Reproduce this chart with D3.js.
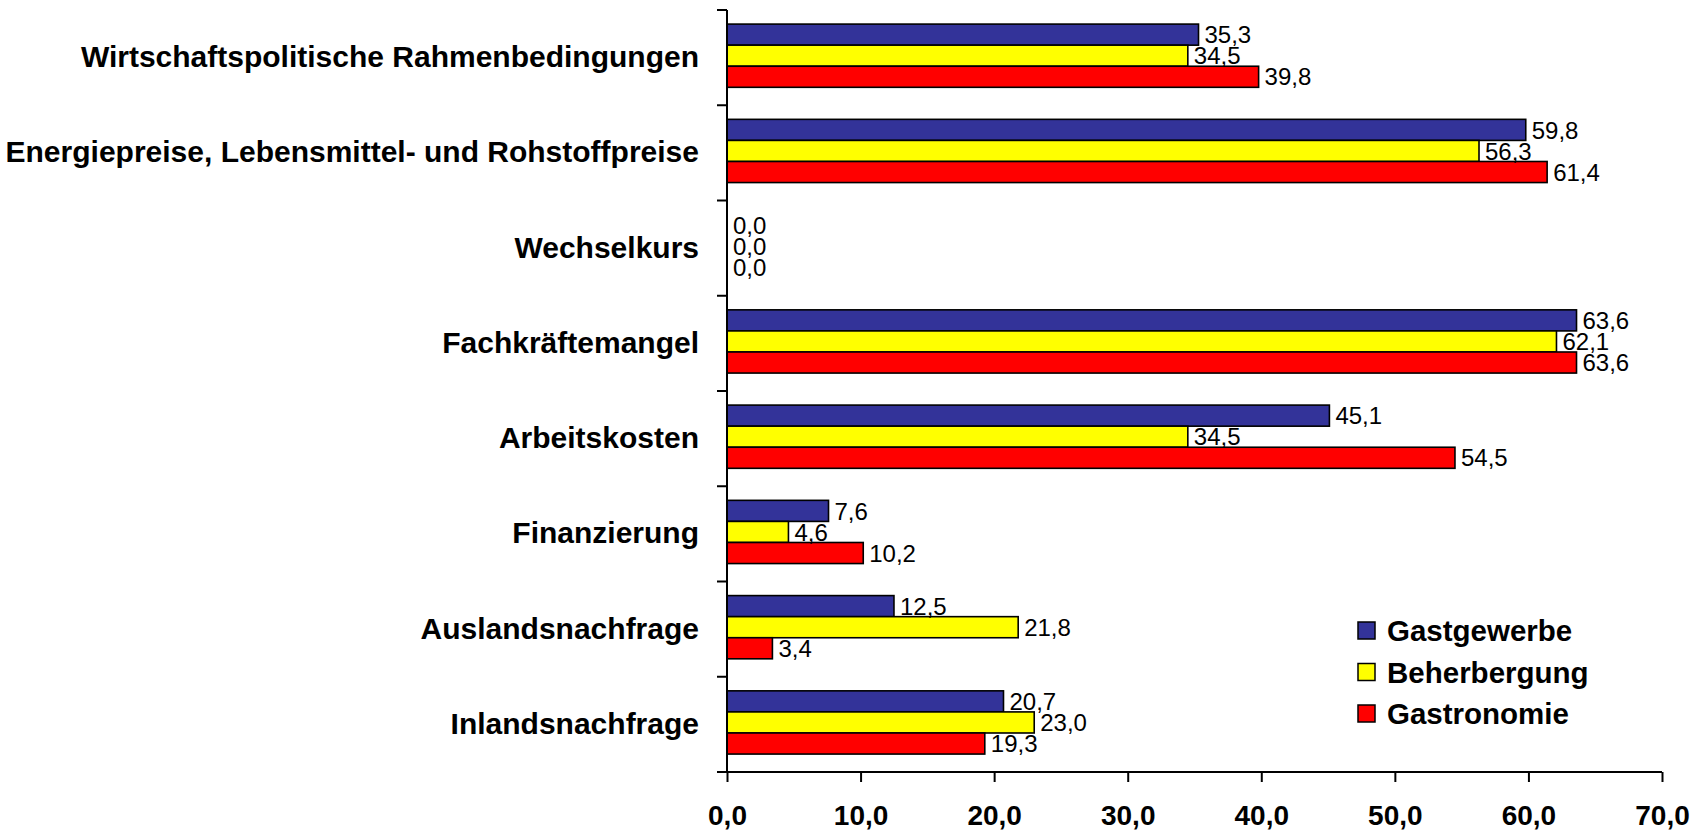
<!DOCTYPE html>
<html>
<head>
<meta charset="utf-8">
<script src="https://cdn.jsdelivr.net/npm/d3@7"></script>
<style>
  body { margin: 0; background: #fff; }
  svg { display: block; font-family: "Liberation Sans", Arial, sans-serif; }
</style>
</head>
<body>
<div id="chart"></div>
<script>
// categories, top to bottom
var categories = [
  "Wirtschaftspolitische Rahmenbedingungen",
  "Energiepreise, Lebensmittel- und Rohstoffpreise",
  "Wechselkurs",
  "Fachkräftemangel",
  "Arbeitskosten",
  "Finanzierung",
  "Auslandsnachfrage",
  "Inlandsnachfrage"
];
var seriesNames = ["Gastgewerbe", "Beherbergung", "Gastronomie"];
var seriesColors = ["#333399", "#ffff00", "#ff0000"];

var gastgewerbe = [35.3, 59.8, 0.0, 63.6, 45.1, 7.6, 12.5, 20.7];
var beherbergung = [34.5, 56.3, 0.0, 62.1, 34.5, 4.6, 21.8, 23.0];
var gastronomie = [39.8, 61.4, 0.0, 63.6, 54.5, 10.2, 3.4, 19.3];

var xTicks = [0, 10, 20, 30, 40, 50, 60, 70];

var config = {
  "width": 1707,
  "height": 830,
  "left": 727,
  "right": 1662,
  "top": 10,
  "bottom": 772
};

var values = [gastgewerbe, beherbergung, gastronomie];

// german number format
var de = d3.formatLocale({decimal: ",", thousands: ".", grouping: [3], currency: ["", " €"]});
var fmt = de.format(".1f");

var svg = d3.select("#chart")
  .append("svg")
  .attr("width", config.width)
  .attr("height", config.height);

var x = d3.scaleLinear()
  .domain([0, 70])
  .range([config.left, config.right]);

var y0 = d3.scaleBand()
  .domain(categories)
  .range([config.top, config.bottom])
  .padding(0);

var y1 = d3.scaleBand()
  .domain(seriesNames)
  .range([0, y0.bandwidth()])
  .paddingInner(0)
  .paddingOuter(0.76)
  .align(0.44);

// bars
var groups = svg.append("g")
  .selectAll("g")
  .data(categories)
  .enter()
  .append("g")
  .attr("transform", function(d) { return "translate(0," + y0(d) + ")"; });

groups.selectAll("rect")
  .data(function(d, i) {
    return seriesNames.map(function(s, j) {
      return {series: s, value: values[j][i], color: seriesColors[j]};
    });
  })
  .enter()
  .append("rect")
  .attr("x", x(0))
  .attr("y", function(d) { return y1(d.series); })
  .attr("height", y1.bandwidth())
  .attr("width", function(d) { return x(d.value) - x(0); })
  .style("fill", function(d) { return d.color; })
  .style("stroke", function(d) { return d.value > 0 ? "#000" : "none"; })
  .style("stroke-width", "1.6px");

// value labels
groups.selectAll("text")
  .data(function(d, i) {
    return seriesNames.map(function(s, j) {
      return {series: s, value: values[j][i]};
    });
  })
  .enter()
  .append("text")
  .attr("x", function(d) { return x(d.value) + 6; })
  .attr("y", function(d) { return y1(d.series) + y1.bandwidth() / 2; })
  .attr("dy", ".36em")
  .style("font-size", "24px")
  .style("fill", "#000")
  .text(function(d) { return fmt(d.value); });

// left axis: category labels
var yAxis = svg.append("g")
  .attr("transform", "translate(" + config.left + ",0)")
  .call(d3.axisLeft(y0).tickSize(0).tickPadding(28));
yAxis.select(".domain").remove();
yAxis.selectAll("text")
  .style("font-size", "30px")
  .style("font-weight", "bold")
  .style("fill", "#000");

// left axis line and ticks at category boundaries
var bounds = categories.map(function(d) { return y0(d); }).concat([config.bottom]);
svg.append("line")
  .attr("x1", x(0)).attr("x2", x(0))
  .attr("y1", config.top).attr("y2", config.bottom)
  .style("stroke", "#000").style("stroke-width", "2px");
svg.append("g")
  .selectAll("line")
  .data(bounds)
  .enter()
  .append("line")
  .attr("x1", x(0) - 10).attr("x2", x(0))
  .attr("y1", function(d) { return d; })
  .attr("y2", function(d) { return d; })
  .style("stroke", "#000").style("stroke-width", "2px");

// bottom axis
var xAxis = svg.append("g")
  .attr("transform", "translate(0," + config.bottom + ")")
  .call(d3.axisBottom(x).tickValues(xTicks).tickSize(10).tickSizeOuter(0).tickPadding(23).tickFormat(fmt));
xAxis.select(".domain")
  .attr("d", "M" + (x(0) - 10) + ",0H" + x(70))
  .style("stroke-width", "2px");
xAxis.selectAll(".tick line").style("stroke-width", "2px");
xAxis.selectAll("text")
  .style("font-size", "28px")
  .style("font-weight", "bold")
  .style("fill", "#000");

// legend
var legend = svg.append("g")
  .attr("transform", "translate(1358,622)");
var items = legend.selectAll("g")
  .data(seriesNames)
  .enter()
  .append("g")
  .attr("transform", function(d, i) { return "translate(0," + (i * 41.5) + ")"; });
items.append("rect")
  .attr("width", 17)
  .attr("height", 17)
  .style("fill", function(d, i) { return seriesColors[i]; })
  .style("stroke", "#000")
  .style("stroke-width", "1.5px");
items.append("text")
  .attr("x", 29)
  .attr("y", 8.5)
  .attr("dy", ".36em")
  .style("font-size", "29.5px")
  .style("font-weight", "bold")
  .text(function(d) { return d; });
</script>
</body>
</html>
